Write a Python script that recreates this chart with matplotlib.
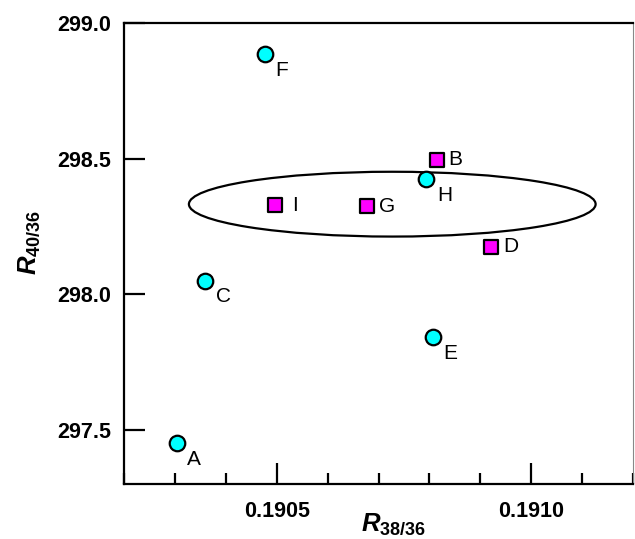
import matplotlib
matplotlib.use('Agg')
import matplotlib.pyplot as plt
from matplotlib.patches import Ellipse
from matplotlib.ticker import MultipleLocator

plt.rcParams['font.family'] = ['Liberation Sans', 'DejaVu Sans']
plt.rcParams['mathtext.fontset'] = 'custom'
plt.rcParams['mathtext.rm'] = 'Liberation Sans'
plt.rcParams['mathtext.bf'] = 'Liberation Sans:bold'
plt.rcParams['mathtext.bfit'] = 'Liberation Sans:bold:italic'

# circles (cyan)
circ_names = ['A', 'C', 'E', 'F', 'H']
circ_x = [0.190304, 0.190360, 0.190807, 0.190477, 0.190794]
circ_y = [297.450, 298.049, 297.841, 298.885, 298.423]

# squares (magenta)
sq_names = ['B', 'D', 'G', 'I']
sq_x = [0.190814, 0.190921, 0.190677, 0.190497]
sq_y = [298.496, 298.175, 298.325, 298.328]

# ellipse
ell_center = (0.190727, 298.332)
ell_width = 0.000799
ell_height = 0.239

fig = plt.figure(figsize=(6.35, 5.39), dpi=100)
ax = fig.add_axes([0.1953, 0.102, 0.8016, 0.8553])

ax.add_patch(Ellipse(ell_center, ell_width, ell_height, fill=False,
                     edgecolor='black', linewidth=1.6, zorder=2))

ax.scatter(circ_x, circ_y, s=125, c='#00FFFF', edgecolors='black',
           linewidths=1.6, zorder=3)
ax.scatter(sq_x, sq_y, s=95, marker='s', c='#FF00FF', edgecolors='black',
           linewidths=1.6, zorder=3)

for n, x, y in zip(circ_names, circ_x, circ_y):
    ax.annotate(n, (x, y), xytext=(7.5, -11.5), textcoords='offset points',
                ha='left', va='center', fontsize=15)
for n, x, y in zip(sq_names, sq_x, sq_y):
    dx = 12.5 if n == 'I' else 8.5
    ax.annotate(n, (x, y), xytext=(dx, 0), textcoords='offset points',
                ha='left', va='center', fontsize=15)

ax.set_xlim(0.1902, 0.1912)
ax.set_ylim(297.30, 299.0)
ax.xaxis.set_major_locator(MultipleLocator(0.0005))
ax.xaxis.set_minor_locator(MultipleLocator(0.0001))
ax.yaxis.set_major_locator(MultipleLocator(0.5))
ax.xaxis.set_major_formatter(plt.FormatStrFormatter('%.4f'))
ax.yaxis.set_major_formatter(plt.FormatStrFormatter('%.1f'))

ax.tick_params(which='major', direction='in', length=15, width=1.6,
               labelsize=15.5, top=False, right=False)
ax.tick_params(which='minor', direction='in', length=8, width=1.6,
               top=False, right=False)
ax.tick_params(axis='x', pad=12)
ax.tick_params(axis='y', pad=9)
for lab in ax.get_xticklabels() + ax.get_yticklabels():
    lab.set_fontweight('bold')

for s in ['left', 'bottom', 'top']:
    ax.spines[s].set_linewidth(1.6)
ax.spines['right'].set_linewidth(0.8)
ax.spines['right'].set_color('#888888')

ax.set_xlabel(r'$\mathbfit{R}_{\mathbf{38/36}}$', fontsize=18.5)
ax.set_ylabel(r'$\mathbfit{R}_{\mathbf{40/36}}$', fontsize=18.5)
ax.xaxis.set_label_coords(0.530, -0.060)
ax.yaxis.set_label_coords(-0.162, 0.525)

fig.savefig('out.png', dpi=100)
